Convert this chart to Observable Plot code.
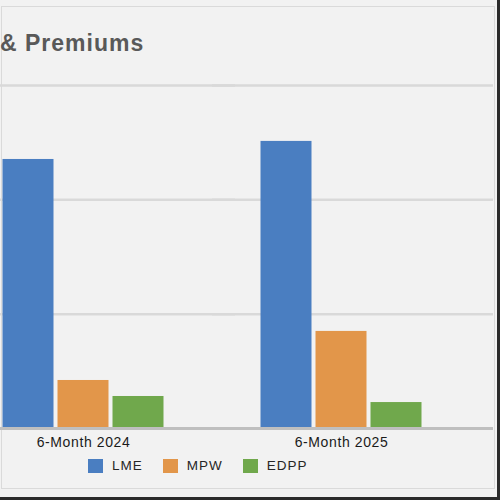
<!DOCTYPE html>
<html>
<head>
<meta charset="utf-8">
<script src="https://cdn.jsdelivr.net/npm/d3@7"></script>
<script src="https://cdn.jsdelivr.net/npm/@observablehq/plot@0.6"></script>
<style>
  html, body { margin: 0; padding: 0; background: #f2f2f2; }
  #wrap { position: relative; width: 500px; height: 500px; overflow: hidden; background: #f2f2f2; font-family: "Liberation Sans", Arial, sans-serif; }
  #frame { position: absolute; left: 1px; top: 6px; width: 492px; height: 481px; border: 1.5px solid #dadada; }
  #title { position: absolute; left: 0px; top: 32px; font-size: 23px; line-height: 23px; font-weight: bold; color: #595959; white-space: nowrap; letter-spacing: 1px; }
  #chart { position: absolute; left: -50px; top: 0; }
  #legend { position: absolute; left: 88px; top: 458px; display: flex; align-items: center; font-size: 13.5px; color: #262626; letter-spacing: 1px; }
  .item { display: flex; align-items: center; margin-right: 20px; }
  .sw { width: 15px; height: 14px; margin-right: 9px; }
  #edgeR { position: absolute; left: 497px; top: 0; width: 3px; height: 500px; background: #2b2b2b; }
  #edgeB { position: absolute; left: 0; top: 497px; width: 500px; height: 3px; background: #2b2b2b; }
  #chart svg g[aria-label="fx-axis tick label"] text { letter-spacing: 0.6px; }
</style>
</head>
<body>
<div id="wrap">
  <div id="frame"></div>
  <div id="title">&amp; Premiums</div>
  <div id="chart"></div>
  <div id="legend"></div>
  <div id="edgeR"></div>
  <div id="edgeB"></div>
</div>
<script>
const periods = ["6-Month 2024", "6-Month 2025"];
const series = ["LME", "MPW", "EDPP"];
const lme = [2353, 2511];
const mpw = [420, 849];
const edpp = [280, 227];
const colors = ["#4a7ec1", "#e2964a", "#70a84c"];
const yTicks = [0, 1000, 2000, 3000];

const values = { LME: lme, MPW: mpw, EDPP: edpp };
const data = periods.flatMap((p, i) => series.map(s => ({ period: p, series: s, value: values[s][i] })));

const chart = Plot.plot({
  width: 550,
  height: 500,
  marginLeft: 3.5,
  marginRight: 6,
  marginTop: 85,
  marginBottom: 72,
  style: { background: "transparent", fontFamily: "Liberation Sans, Arial, sans-serif", overflow: "visible" },
  fx: { domain: periods, paddingInner: 0, paddingOuter: 0.04344, align: 0, label: null },
  x: { domain: series, paddingInner: 0.0714, paddingOuter: 0.848, axis: null },
  y: { domain: [yTicks[0], yTicks[yTicks.length - 1]], axis: null },
  color: { domain: series, range: colors },
  marks: [
    Plot.ruleY(yTicks.slice(1), { stroke: "#d9d9d9", strokeWidth: 2.5, insetRight: -23 }),
    Plot.barY(data, { fx: "period", x: "series", y: "value", fill: "series" }),
    Plot.ruleY([yTicks[0]], { stroke: "#bfbfbf", strokeWidth: 3, insetRight: -23 }),
    Plot.axisFx({ anchor: "bottom", tickSize: 0, tickPadding: 9, fontSize: 14, fill: "#1a1a1a", label: null })
  ]
});
document.getElementById("chart").appendChild(chart);

const legend = document.getElementById("legend");
series.forEach((s, i) => {
  const item = document.createElement("div");
  item.className = "item";
  const sw = document.createElement("div");
  sw.className = "sw";
  sw.style.background = colors[i];
  const label = document.createElement("span");
  label.textContent = s;
  item.appendChild(sw);
  item.appendChild(label);
  legend.appendChild(item);
});
</script>
</body>
</html>
